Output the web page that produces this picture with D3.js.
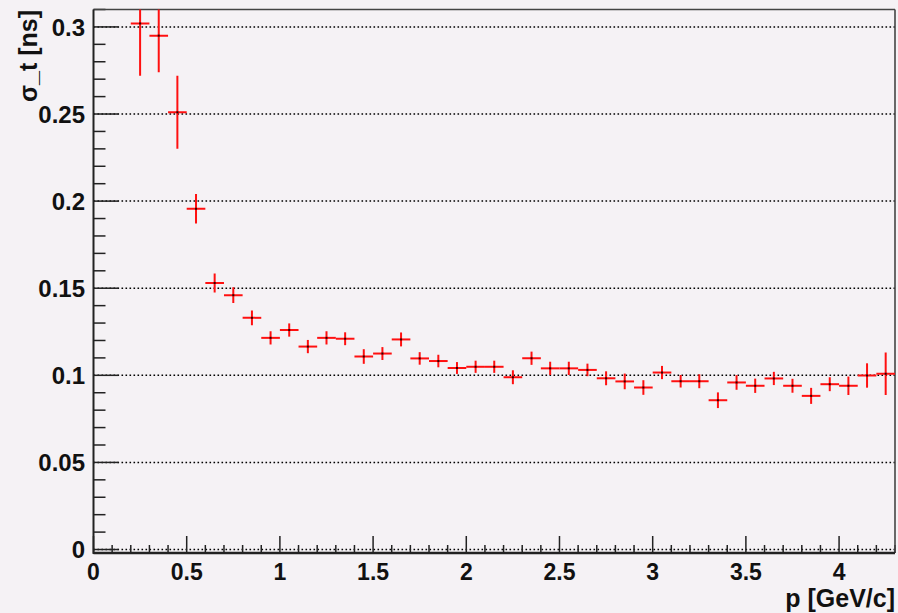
<!DOCTYPE html>
<html>
<head>
<meta charset="utf-8">
<script src="https://cdn.jsdelivr.net/npm/d3@7"></script>
<style>
  html, body { margin: 0; padding: 0; background: #f5f2f5; }
  svg { display: block; }
  text { font-family: "Liberation Sans", Arial, Helvetica, sans-serif; font-weight: bold; fill: #111; }
</style>
</head>
<body>
<svg id="chart" width="898" height="613"></svg>
<script>
// ---- data ----
const pValues = [0.25,0.35,0.45,0.55,0.65,0.75,0.85,0.95,1.05,1.15,1.25,1.35,1.45,1.55,1.65,1.75,1.85,1.95,2.05,2.15,2.25,2.35,2.45,2.55,2.65,2.75,2.85,2.95,3.05,3.15,3.25,3.35,3.45,3.55,3.65,3.75,3.85,3.95,4.05,4.15,4.25];
const sigmaValues = [0.302,0.295,0.251,0.1956,0.153,0.146,0.133,0.1215,0.126,0.1165,0.1215,0.121,0.1108,0.1125,0.1206,0.1097,0.1082,0.1042,0.1049,0.1049,0.0989,0.1098,0.104,0.104,0.1031,0.0983,0.0965,0.093,0.1016,0.0966,0.0966,0.0857,0.0959,0.094,0.0982,0.094,0.0882,0.0949,0.094,0.0999,0.1009];
const sigmaErrors = [0.030,0.021,0.021,0.0085,0.0055,0.0045,0.0042,0.0038,0.0038,0.0038,0.0038,0.0037,0.0042,0.0037,0.0040,0.0036,0.0036,0.0034,0.0035,0.0035,0.0040,0.0038,0.0038,0.0038,0.0036,0.0040,0.0045,0.0042,0.0038,0.0036,0.0040,0.0045,0.0042,0.0041,0.0038,0.0040,0.0046,0.0040,0.0053,0.0070,0.0122];
const binHalfWidth = 0.05;
const xTickValues = [0, 0.5, 1, 1.5, 2, 2.5, 3, 3.5, 4];
const xTickLabels = ["0", "0.5", "1", "1.5", "2", "2.5", "3", "3.5", "4"];
const yTickValues = [0, 0.05, 0.1, 0.15, 0.2, 0.25, 0.3];
const yTickLabels = ["0", "0.05", "0.1", "0.15", "0.2", "0.25", "0.3"];
const xTitle = "p [GeV/c]";
const yTitle = "σ_t [ns]";

// ---- layout ----
const svg = d3.select("#chart");
const L = 93.5, R = 895, T = 9.5, B = 553;
const x = d3.scaleLinear().domain([0, 4.3]).range([L, R]);
const y = d3.scaleLinear().domain([-0.002, 0.31]).range([B, T]);

// grid (dotted horizontal)
svg.append("g").selectAll("line").data(yTickValues).join("line")
  .attr("x1", L).attr("x2", R)
  .attr("y1", d => y(d)).attr("y2", d => y(d))
  .attr("stroke", "#000").attr("stroke-width", 1.5)
  .attr("stroke-dasharray", "1.6,2.4");

// y axis ticks
const yMinor = d3.range(0, 0.3101, 0.01);
svg.append("g").selectAll("line").data(yMinor).join("line")
  .attr("x1", L).attr("x2", (d, i) => L + (i % 5 === 0 ? 25 : 12))
  .attr("y1", d => y(d)).attr("y2", d => y(d))
  .attr("stroke", "#222").attr("stroke-width", 1.5);

// x axis ticks
const xMinor = d3.range(0, 4.301, 0.1);
svg.append("g").selectAll("line").data(xMinor).join("line")
  .attr("x1", d => x(d)).attr("x2", d => x(d))
  .attr("y1", B).attr("y2", (d, i) => B - (i % 5 === 0 ? 17 : 8))
  .attr("stroke", "#222").attr("stroke-width", 1.5);

// frame
svg.append("line").attr("x1", L).attr("x2", R).attr("y1", T).attr("y2", T).attr("stroke", "#444").attr("stroke-width", 1.6);
svg.append("line").attr("x1", R).attr("x2", R).attr("y1", T).attr("y2", B).attr("stroke", "#444").attr("stroke-width", 1.6);
svg.append("line").attr("x1", L).attr("x2", L).attr("y1", T).attr("y2", B + 1).attr("stroke", "#222").attr("stroke-width", 2);
svg.append("line").attr("x1", L).attr("x2", R).attr("y1", B).attr("y2", B).attr("stroke", "#222").attr("stroke-width", 2.4);

// data
svg.append("clipPath").attr("id", "clip").append("rect")
  .attr("x", L).attr("y", T).attr("width", R - L).attr("height", B - T);
const data = pValues.map((p, i) => ({p, s: sigmaValues[i], e: sigmaErrors[i]}));
const g = svg.append("g").attr("clip-path", "url(#clip)");
g.selectAll("line.h").data(data).join("line").attr("class", "h")
  .attr("x1", d => x(d.p - binHalfWidth)).attr("x2", d => x(d.p + binHalfWidth))
  .attr("y1", d => y(d.s)).attr("y2", d => y(d.s))
  .attr("stroke", "#ff1010").attr("stroke-width", 2);
g.selectAll("line.v").data(data).join("line").attr("class", "v")
  .attr("x1", d => x(d.p)).attr("x2", d => x(d.p))
  .attr("y1", d => y(d.s - d.e)).attr("y2", d => y(d.s + d.e))
  .attr("stroke", "#ff1010").attr("stroke-width", 2);
g.selectAll("rect.m").data(data).join("rect").attr("class", "m")
  .attr("x", d => x(d.p) - 1).attr("y", d => y(d.s) - 1)
  .attr("width", 2).attr("height", 2).attr("fill", "#300");

// tick labels
svg.append("g").selectAll("text").data(yTickValues).join("text")
  .attr("x", 85).attr("y", d => y(d)).attr("dy", "0.36em")
  .attr("text-anchor", "end").attr("font-size", 24)
  .text((d, i) => yTickLabels[i]);
svg.append("g").selectAll("text").data(xTickValues).join("text")
  .attr("x", d => x(d)).attr("y", 580)
  .attr("text-anchor", "middle").attr("font-size", 23)
  .text((d, i) => xTickLabels[i]);

// titles
svg.append("text").attr("x", 895).attr("y", 607).attr("text-anchor", "end")
  .attr("font-size", 25).text(xTitle);
svg.append("text").attr("transform", "translate(37,10) rotate(-90)")
  .attr("text-anchor", "end").attr("font-size", 25).text(yTitle);
</script>
</body>
</html>
